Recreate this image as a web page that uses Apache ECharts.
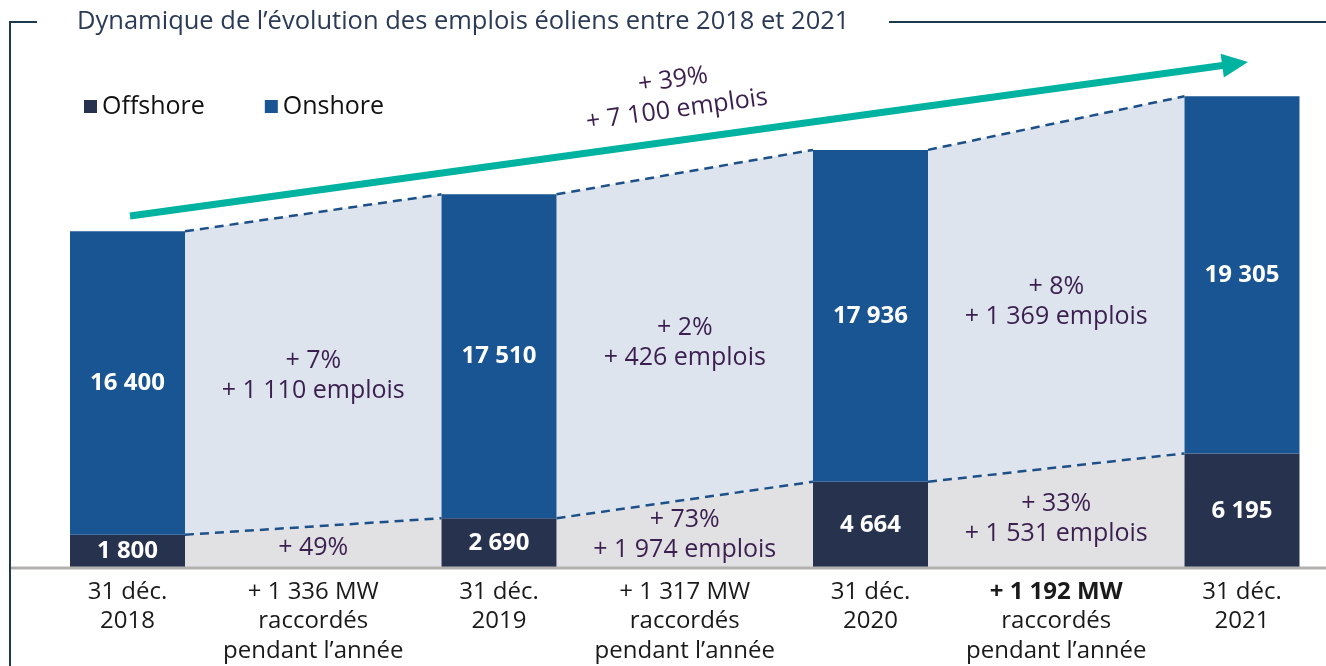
<!DOCTYPE html>
<html>
<head>
<meta charset="utf-8">
<script src="https://cdn.jsdelivr.net/npm/echarts@6/dist/echarts.min.js"></script>
<style>
  html, body { margin: 0; padding: 0; background: #fff; }
  #chart { width: 1326px; height: 666px; }
</style>
</head>
<body>
<div id="chart"></div>
<script>
// données
var years = ['2018', '2019', '2020', '2021'];
var offshore = [1800, 2690, 4664, 6195];
var onshore = [16400, 17510, 17936, 19305];
var mwLabels = ['+ 1 336 MW', '+ 1 317 MW', '+ 1 192 MW'];
var onshoreGrowth = ['+ 7%\n+ 1 110 emplois', '+ 2%\n+ 426 emplois', '+ 8%\n+ 1 369 emplois'];
var offshoreGrowth = ['+ 49%', '+ 73%\n+ 1 974 emplois', '+ 33%\n+ 1 531 emplois'];
var totalGrowth = ['+ 39%', '+ 7 100 emplois'];

var FONT = '"Open Sans", "Noto Sans", sans-serif';
var BAR_W = 115;
var C_OFF = '#26324e', C_ON = '#1a5593';

function fmt(v) {
    return String(v).replace(/\B(?=(\d{3})+(?!\d))/g, ' ');
}

// 7 catégories : date, période, date, ...
var categories = [];
var offData = [], onData = [];
for (var i = 0; i < years.length; i++) {
    categories.push('31 déc.\n' + years[i]);
    offData.push(offshore[i]);
    onData.push(onshore[i]);
    if (i < mwLabels.length) {
        categories.push(mwLabels[i] + '\nraccordés\npendant l\u2019année');
        offData.push('-');
        onData.push('-');
    }
}

var gapData = [];
for (var g = 0; g < mwLabels.length; g++) {
    gapData.push([2 * g + 1, offshore[g], offshore[g + 1],
        offshore[g] + onshore[g], offshore[g + 1] + onshore[g + 1], g]);
}

function renderGap(params, api) {
    var c = api.value(0), g = api.value(5);
    var xL = api.coord([c - 1, 0])[0] + BAR_W / 2;
    var xR = api.coord([c + 1, 0])[0] - BAR_W / 2;
    var y0 = api.coord([c, 0])[1];
    var yo1 = api.coord([c - 1, api.value(1)])[1];
    var yo2 = api.coord([c + 1, api.value(2)])[1];
    var yt1 = api.coord([c - 1, api.value(3)])[1];
    var yt2 = api.coord([c + 1, api.value(4)])[1];
    var xm = (xL + xR) / 2;
    var yoM = (yo1 + yo2) / 2, ytM = (yt1 + yt2) / 2;
    var dash = { stroke: '#1d5089', lineWidth: 2.5, lineDash: [9, 6], fill: null };
    var txt = { fill: '#3b1f4f', fontSize: 25, fontFamily: FONT, align: 'center', verticalAlign: 'middle', lineHeight: 30 };
    return {
        type: 'group',
        children: [
            { type: 'polygon', shape: { points: [[xL, y0], [xR, y0], [xR, yo2], [xL, yo1]] }, style: { fill: '#e1e1e4' } },
            { type: 'polygon', shape: { points: [[xL, yo1], [xR, yo2], [xR, yt2], [xL, yt1]] }, style: { fill: '#dde4ee' } },
            { type: 'polyline', shape: { points: [[xL, yo1], [xR, yo2]] }, style: dash },
            { type: 'polyline', shape: { points: [[xL, yt1], [xR, yt2]] }, style: dash },
            { type: 'text', x: xm, y: ytM + (yoM - ytM) * 0.52, style: Object.assign({ text: onshoreGrowth[g] }, txt) },
            { type: 'text', x: xm, y: (yoM + y0) / 2 + 1, style: Object.assign({ text: offshoreGrowth[g] }, txt) }
        ]
    };
}

// flèche de tendance
var a0 = [130, 216], a1 = [1248, 62];
var dx = a1[0] - a0[0], dy = a1[1] - a0[1], len = Math.sqrt(dx * dx + dy * dy);
var ux = dx / len, uy = dy / len, hb = [a1[0] - 26 * ux, a1[1] - 26 * uy];
var ang = Math.atan2(-dy, dx);

var chart = echarts.init(document.getElementById('chart'));
chart.setOption({
    animation: false,
    textStyle: { fontFamily: FONT },
    grid: { left: 127.5, right: 84, top: 13, bottom: 98 },
    legend: {
        data: ['Offshore', 'Onshore'],
        left: 79, top: 89, icon: 'rect', itemWidth: 13, itemHeight: 13, itemGap: 60,
        textStyle: { fontSize: 25, color: '#111', fontFamily: FONT }
    },
    xAxis: {
        type: 'category', data: categories, boundaryGap: false,
        axisLine: { show: false }, axisTick: { show: false },
        axisLabel: {
            interval: 0, margin: 9,
            formatter: function (v, idx) {
                var lines = v.split('\n');
                return lines.map(function (l, k) {
                    return (idx === 5 && k === 0) ? '{b|' + l + '}' : '{n|' + l + '}';
                }).join('\n');
            },
            rich: {
                n: { fontSize: 24, lineHeight: 29.5, color: '#1a1a1a', fontFamily: FONT },
                b: { fontSize: 24, lineHeight: 29.5, color: '#1a1a1a', fontWeight: 'bold', fontFamily: FONT }
            }
        }
    },
    yAxis: { type: 'value', min: 0, max: 30000, show: false, splitLine: { show: false } },
    series: [
        {
            type: 'custom', renderItem: renderGap, data: gapData, clip: false, silent: true,
            encode: { x: 0, y: [1, 2, 3, 4] }, z: 1
        },
        {
            name: 'Offshore', type: 'bar', stack: 'e', data: offData, barWidth: BAR_W,
            itemStyle: { color: C_OFF }, z: 3,
            label: { show: true, position: 'inside', color: '#fff', fontSize: 24, fontWeight: 'bold', fontFamily: FONT,
                formatter: function (p) { return fmt(p.value); } }
        },
        {
            name: 'Onshore', type: 'bar', stack: 'e', data: onData, barWidth: BAR_W,
            itemStyle: { color: C_ON }, z: 3,
            label: { show: true, position: 'inside', color: '#fff', fontSize: 24, fontWeight: 'bold', fontFamily: FONT,
                formatter: function (p) { return fmt(p.value); } }
        }
    ],
    graphic: [
        { type: 'line', shape: { x1: 10, y1: 22, x2: 10, y2: 666 }, style: { stroke: '#1d3a4c', lineWidth: 2 } },
        { type: 'line', shape: { x1: 9, y1: 22, x2: 37, y2: 22 }, style: { stroke: '#1d3a4c', lineWidth: 2 } },
        { type: 'line', shape: { x1: 889, y1: 22, x2: 1326, y2: 22 }, style: { stroke: '#1d3a4c', lineWidth: 2 } },
        { type: 'text', x: 77, y: 22, style: { text: 'Dynamique de l\u2019évolution des emplois éoliens entre 2018 et 2021',
            fontSize: 25.5, fill: '#2b3a57', fontFamily: FONT, verticalAlign: 'middle' } },
        { type: 'line', shape: { x1: 11, y1: 568, x2: 1326, y2: 568 }, style: { stroke: '#b3b1ae', lineWidth: 3 }, z: 10 },
        { type: 'line', shape: { x1: a0[0], y1: a0[1], x2: hb[0] + 2 * ux, y2: hb[1] + 2 * uy }, style: { stroke: '#00b3a0', lineWidth: 7 }, z: 10 },
        { type: 'polygon', shape: { points: [a1, [hb[0] - 12 * uy, hb[1] + 12 * ux], [hb[0] + 12 * uy, hb[1] - 12 * ux]] },
            style: { fill: '#00b3a0' }, z: 10 },
        { type: 'text', x: 675, y: 95, rotation: ang, z: 10,
            style: { text: totalGrowth.join('\n'), fontSize: 25, lineHeight: 30, fill: '#3b1f4f', fontFamily: FONT,
                align: 'center', verticalAlign: 'middle' } }
    ]
});
</script>
</body>
</html>
